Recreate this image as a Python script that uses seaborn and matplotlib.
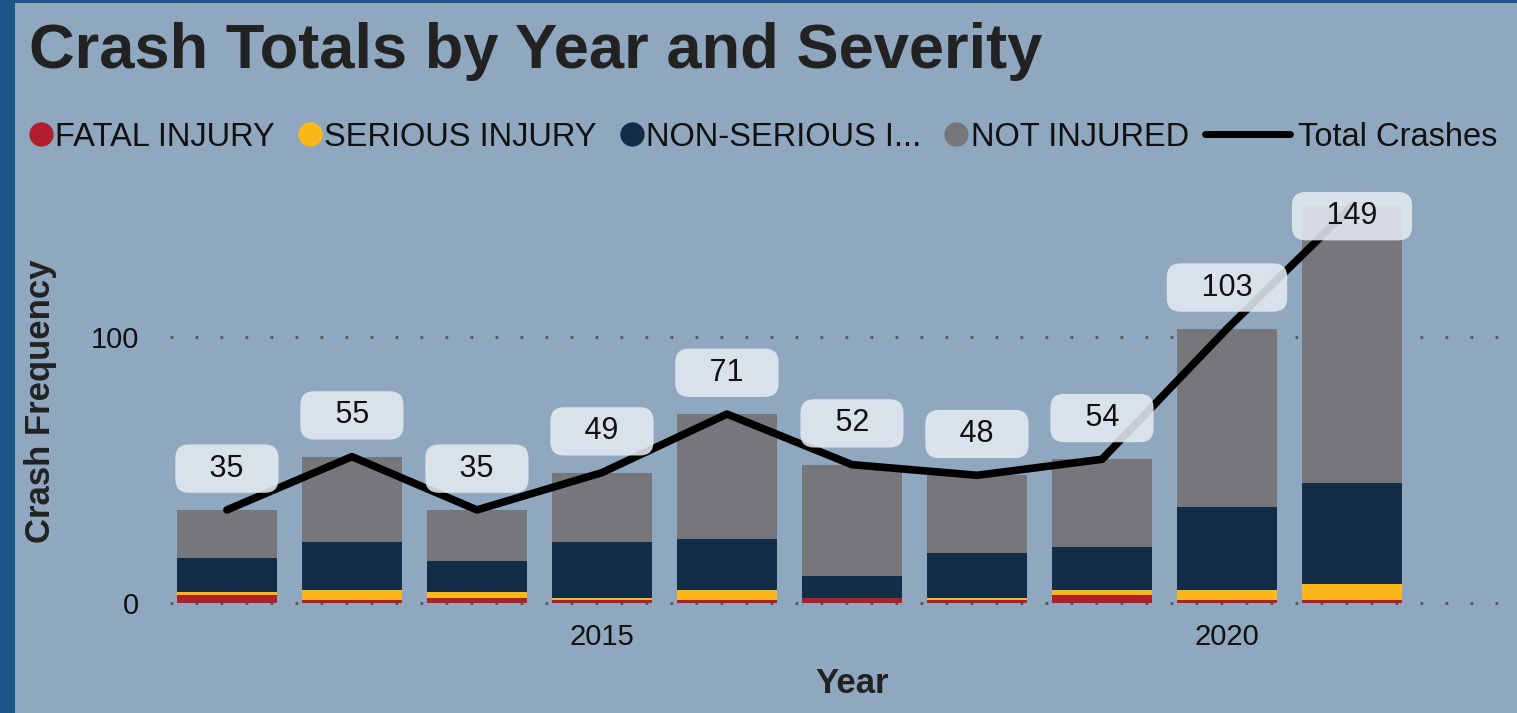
import numpy as np
import pandas as pd
import matplotlib
matplotlib.use("Agg")
import matplotlib.pyplot as plt
from matplotlib.lines import Line2D
from matplotlib.patches import Rectangle
import seaborn as sns

# data
years = [2012, 2013, 2014, 2015, 2016, 2017, 2018, 2019, 2020, 2021]
fatal = [3, 1, 2, 1, 1, 2, 1, 3, 1, 1]
serious = [1, 4, 2, 1, 4, 0, 1, 2, 4, 6]
non_serious = [13, 18, 12, 21, 19, 8, 17, 16, 31, 38]
not_injured = [18, 32, 19, 26, 47, 42, 29, 33, 67, 104]
tick_years = ["2015", "2020"]
legend_labels = ["FATAL INJURY", "SERIOUS INJURY", "NON-SERIOUS I...", "NOT INJURED"]

df = pd.DataFrame({"year": years, "fatal": fatal, "serious": serious,
                   "non_serious": non_serious, "not_injured": not_injured})
df["total"] = df[["fatal", "serious", "non_serious", "not_injured"]].sum(axis=1)

bg = "#8fa7bf"
colors = {"fatal": "#b01f2b", "serious": "#fbb81a", "non_serious": "#132d47", "not_injured": "#77777b"}

sns.set_theme(style="white")
plt.rcParams["font.family"] = ["Liberation Sans", "DejaVu Sans"]

fig = plt.figure(figsize=(15.17, 7.13), dpi=100, facecolor=bg)
ax = fig.add_axes([0.112, 0.150, 0.8847, 0.5905])
ax.set_facecolor("none")

# stacked bars: draw cumulative heights from tallest down
stack = ["fatal", "serious", "non_serious", "not_injured"]
cum = df[stack].cumsum(axis=1)
for col in reversed(stack):
    sns.barplot(x=df["year"], y=cum[col], color=colors[col], saturation=1,
                width=0.8, ax=ax, zorder=2, edgecolor="none", linewidth=0)

pos = np.arange(len(years))
sns.lineplot(x=pos, y=df["total"], color="black", linewidth=5.5, ax=ax, zorder=3,
             solid_joinstyle="round", solid_capstyle="round")

for x, t in zip(pos, df["total"]):
    ax.text(x, min(t + 15.5, 145.3), "   %d   " % t, ha="center", va="center",
            fontsize=22, color="#111111", zorder=4,
            bbox=dict(boxstyle="round,pad=0.3,rounding_size=0.45",
                      facecolor="#e4eaf2", edgecolor="none", alpha=0.88))

ax.set_xlim(-0.456, 10.28)
ax.set_ylim(-1.1, 157)
ax.set_xticks([years.index(int(y)) for y in tick_years])
ax.set_xticklabels(tick_years)
ax.set_yticks([0, 100])
ax.tick_params(axis="x", labelsize=21, pad=12, length=0, colors="#111111")
ax.tick_params(axis="y", labelsize=21, pad=22, length=0, colors="#111111")
ax.grid(axis="y", linestyle=(0, (1, 8)), color="#555555", linewidth=2, zorder=1)
ax.set_axisbelow(True)
for s in ax.spines.values():
    s.set_visible(False)

ax.set_xlabel("Year", fontsize=25, fontweight="bold", color="#222222")
ax.set_ylabel("Crash Frequency", fontsize=25, fontweight="bold", color="#222222")
ax.xaxis.set_label_coords(0.508, -0.145)
ax.yaxis.set_label_coords(-0.084, 0.487)

fig.text(0.019, 1 - 22 / 713, "Crash Totals by Year and Severity", fontsize=45.5,
         fontweight="bold", color="#222222", va="top", ha="left")

# legend: circles then the line
circles = [Line2D([], [], marker="o", linestyle="", markersize=17.5,
                  markerfacecolor=colors[c], markeredgecolor="none") for c in stack]
ly = 1 - 137 / 713
leg1 = fig.legend(circles, legend_labels, loc="center left", bbox_to_anchor=(0.019, ly),
                  ncol=4, frameon=False, fontsize=23.5, handlelength=0.75,
                  handletextpad=0.06, columnspacing=0.7, borderaxespad=0, borderpad=0)
fig.canvas.draw()
ext = leg1.get_window_extent()
leg2 = fig.legend([Line2D([], [], color="black", linewidth=5)], ["Total Crashes"],
                  loc="center left", bbox_to_anchor=(ext.x1 / fig.bbox.width + 16 / 1517, ly),
                  frameon=False, fontsize=23.5, handlelength=2.6, handletextpad=0.25,
                  borderaxespad=0, borderpad=0)
for leg in (leg1, leg2):
    for t in leg.get_texts():
        t.set_color("#111111")

# dark frame strips on left and top
fig.patches.append(Rectangle((0, 0), 15 / 1517, 1, transform=fig.transFigure,
                             facecolor="#1c5586", edgecolor="none", zorder=0))
fig.patches.append(Rectangle((0, 1 - 3 / 713), 1, 3 / 713, transform=fig.transFigure,
                             facecolor="#1c5586", edgecolor="none", zorder=0))

fig.savefig("out.png", dpi=100, facecolor=bg)
